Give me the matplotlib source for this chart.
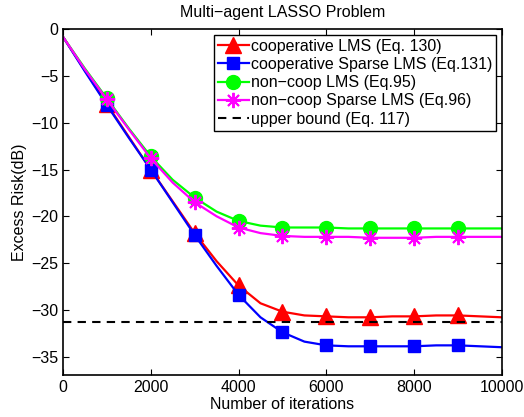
import matplotlib
matplotlib.use("Agg")
import matplotlib.pyplot as plt

plt.rcParams['font.family'] = ['Liberation Sans', 'DejaVu Sans']

# iterations sampled every 500, markers every 1000
iters = [0, 500, 1000, 1500, 2000, 2500, 3000, 3500, 4000, 4500, 5000,
         5500, 6000, 6500, 7000, 7500, 8000, 8500, 9000, 9500, 10000]

coop_lms = [-0.8, -4.4, -8.0, -11.5, -15.0, -18.4, -21.8, -24.8, -27.4, -29.3, -30.2,
            -30.6, -30.7, -30.8, -30.8, -30.7, -30.7, -30.6, -30.6, -30.7, -30.8]
coop_sparse = [-0.8, -4.5, -8.1, -11.6, -15.0, -18.5, -22.0, -25.3, -28.4, -30.8, -32.4,
               -33.4, -33.8, -33.9, -33.9, -33.9, -33.9, -33.8, -33.8, -33.9, -34.0]
noncoop_lms = [-0.8, -4.2, -7.4, -10.6, -13.6, -16.1, -18.0, -19.5, -20.5, -21.0, -21.2,
               -21.2, -21.2, -21.3, -21.3, -21.3, -21.3, -21.3, -21.3, -21.3, -21.3]
noncoop_sparse = [-0.8, -4.3, -7.5, -10.7, -13.8, -16.4, -18.5, -20.0, -21.2, -21.8, -22.1,
                  -22.2, -22.2, -22.2, -22.3, -22.3, -22.3, -22.2, -22.2, -22.2, -22.2]
upper_bound = -31.3

fig = plt.figure(figsize=(5.24, 4.17), dpi=100)
ax = fig.add_axes([0.120, 0.100, 0.838, 0.830])

mk = list(range(2, 20, 2))  # markers at 1000..9000
ax.plot(iters, coop_lms, color='red', lw=1.6, marker='^', ms=11, markevery=mk,
        label='cooperative LMS (Eq. 130)')
ax.plot(iters, coop_sparse, color='blue', lw=1.6, marker='s', ms=9, markevery=mk,
        label='cooperative Sparse LMS (Eq.131)')
ax.plot(iters, noncoop_lms, color='#00ff00', lw=1.6, marker='o', ms=10, markevery=mk,
        label='non\u2212coop LMS (Eq.95)')
ax.plot(iters, noncoop_sparse, color='magenta', lw=1.6, marker=(8, 2, 0), ms=11, mew=1.4,
        markevery=mk, label='non\u2212coop Sparse LMS (Eq.96)')
ax.axhline(upper_bound, color='black', lw=1.5, ls=(0, (4, 3)), label='upper bound (Eq. 117)')

ax.set_xlim(0, 10000)
ax.set_ylim(-37, 0)
ax.set_xticks([0, 2000, 4000, 6000, 8000, 10000])
ax.set_yticks([0, -5, -10, -15, -20, -25, -30, -35])
ax.tick_params(direction='in', top=True, right=True, labelsize=11.5, length=4, width=0.8)
for s in ax.spines.values():
    s.set_linewidth(1.2)

ax.set_xlabel('Number of iterations', fontsize=11.5, labelpad=1)
ax.set_ylabel('Excess Risk(dB)', fontsize=11.5, labelpad=3)
ax.set_title('Multi\u2212agent LASSO Problem', fontsize=11.5, pad=9)

leg = ax.legend(loc='upper right', fontsize=11.5, fancybox=False, framealpha=1,
                edgecolor='black', handlelength=1.9, handletextpad=0.15,
                borderpad=0.25, labelspacing=0.2, borderaxespad=0.35)
leg.get_frame().set_linewidth(1.0)

fig.savefig('out.png', dpi=100)
